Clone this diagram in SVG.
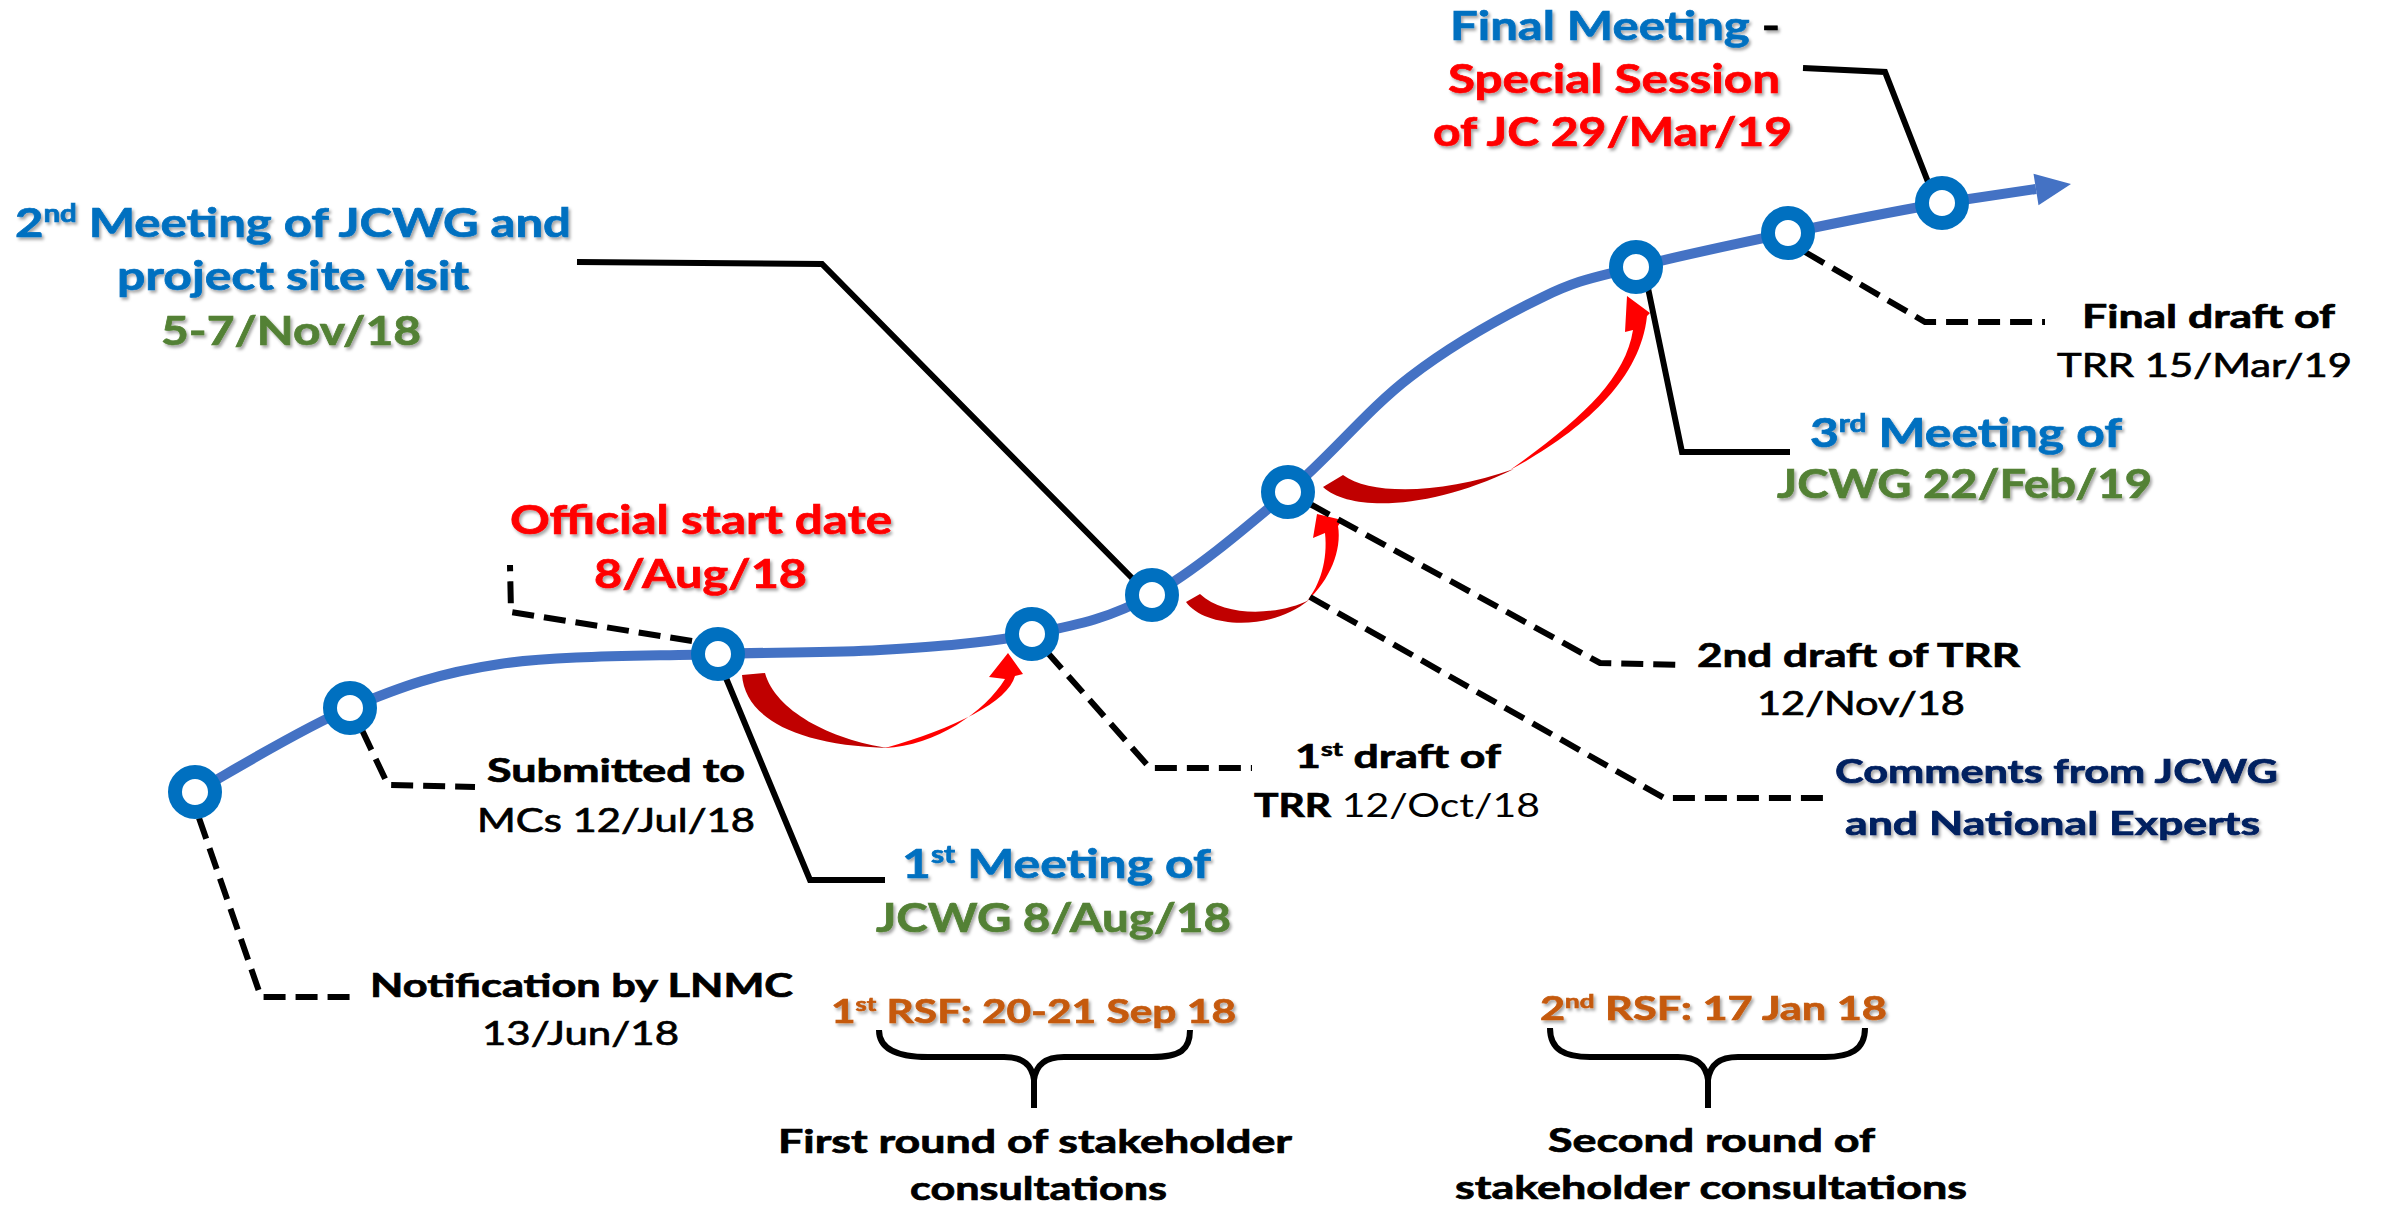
<svg xmlns="http://www.w3.org/2000/svg" width="2384" height="1205" viewBox="0 0 2384 1205">
<defs>
<filter id="sh" x="-5%" y="-20%" width="110%" height="140%">
<feDropShadow dx="2" dy="2.5" stdDeviation="1.5" flood-color="#000" flood-opacity="0.35"/>
</filter>
</defs>
<style>
.t{font-family:Lato,"Open Sans","Liberation Sans",sans-serif;font-weight:bold;stroke-width:0.7;}
.big{font-size:40px;filter:url(#sh);}
.mid{font-size:33px;}
.reg{font-weight:normal;stroke:none;}
.blue{fill:#0070C0;stroke:#0070C0;}
.green{fill:#538135;stroke:#538135;}
.red{fill:#FF0000;stroke:#FF0000;}
.orange{fill:#C55A11;stroke:#C55A11;filter:url(#sh);}
.navy{fill:#002060;stroke:#002060;filter:url(#sh);}
.blk{fill:#000;stroke:#000;}
.sup{font-size:60%;}
.solid{fill:none;stroke:#000;stroke-width:6;stroke-linejoin:miter;}
.dash{fill:none;stroke:#000;stroke-width:6;stroke-dasharray:22 10;}
.brace{fill:none;stroke:#000;stroke-width:6;stroke-linecap:butt;}
.ring{fill:#fff;stroke:#0070C0;stroke-width:14;}
.dark{fill:#C00000;}
.bright{fill:#FF0000;}
</style>

<g id="timeline">
<path d="M195,792 C220.8,778 299.2,729.3 350,708 C400.8,686.7 438.7,673 500,664 C561.3,655 654.7,656.3 718,654 C781.3,651.7 827.7,653.3 880,650 C932.3,646.7 986.7,643.2 1032,634 C1077.3,624.8 1109.3,618.7 1152,595 C1194.7,571.3 1245,528.3 1288,492 C1331,455.7 1367.5,409.5 1410,377 C1452.5,344.5 1505.3,315.3 1543,297 C1580.7,278.7 1595.2,277.7 1636,267 C1676.8,256.3 1737,243.7 1788,233 C1839,222.3 1900.7,210.3 1942,203 L2036,189" fill="none" stroke="#4472C4" stroke-width="10"/>
<polygon points="2071,184 2033.5,173.7 2038.5,205.3" fill="#4472C4"/>
</g>

<g id="red-arrows">
<g id="arrow1">
<path class="dark" d="M742,675 C745,715 790,745 889,748 C830,740 775,710 765,673 Z"/>
<path class="bright" d="M885,748 C935,746 985,712 1005,679 L989,677 L1008,653 L1023,674 L1015,676 C1008,702 955,728 885,748 Z"/>
</g>
<g id="arrow2">
<path class="dark" d="M1186,602 C1205,628 1270,632 1309,600 C1280,615 1225,618 1200,594 Z"/>
<path class="bright" d="M1307,601 C1330,580 1342,550 1338,526 L1342,520 L1317,514 L1313,538 L1325,533 C1328,560 1320,585 1307,601 Z"/>
</g>
<g id="arrow3">
<path class="dark" d="M1323,487 C1350,512 1430,510 1514,469 C1440,495 1370,495 1343,475 Z"/>
<path class="bright" d="M1510,470 C1580,432 1640,382 1647,316 L1650,313 L1627,296 L1625,332 L1633,330 C1625,380 1580,420 1510,470 Z"/>
</g>
</g>

<g id="connectors">
<path class="solid" d="M577,262 L822,264 L1134,580"/>
<path class="solid" d="M1803,68 L1885,72 L1928,182"/>
<path class="solid" d="M1648,288 L1682,452 L1790,452"/>
<path class="solid" d="M726,678 L810,880 L885,880"/>
<path class="dash" d="M692,641 L511,612 L510,565"/>
<path class="dash" d="M362,730 L388,785 L475,787"/>
<path class="dash" d="M199,818 L261,997 L350,997"/>
<path class="dash" d="M1047,652 L1150,768 L1252,768"/>
<path class="dash" d="M1310,504 L1600,663 L1682,665"/>
<path class="dash" d="M1310,597 L1664,798 L1825,798"/>
<path class="dash" d="M1805,252 L1925,322 L2045,322"/>
<path class="brace" d="M879,1030 C879,1050 900,1057 928,1057 L1004,1057 C1022,1057 1032,1064 1034,1080 C1036,1064 1046,1057 1064,1057 L1152,1057 C1180,1057 1190,1050 1190,1030 M1034,1078 L1034,1108"/>
<path class="brace" d="M1550,1028 C1550,1050 1565,1057 1590,1057 L1678,1057 C1696,1057 1706,1064 1708,1080 C1710,1064 1720,1057 1738,1057 L1825,1057 C1850,1057 1865,1050 1865,1028 M1708,1078 L1708,1108"/>
</g>

<g id="node-notification">
<circle class="ring" cx="195" cy="792" r="20"/>
<text class="t mid blk" x="370" y="997" textLength="423" lengthAdjust="spacingAndGlyphs">Notification by LNMC</text>
<text class="t mid blk reg" x="482" y="1045" textLength="197" lengthAdjust="spacingAndGlyphs">13/Jun/18</text>
</g>

<g id="node-submitted">
<circle class="ring" cx="350" cy="708" r="20"/>
<text class="t mid blk" x="487" y="782" textLength="258" lengthAdjust="spacingAndGlyphs">Submitted to</text>
<text class="t mid blk reg" x="477" y="832" textLength="278" lengthAdjust="spacingAndGlyphs">MCs 12/Jul/18</text>
</g>

<g id="node-start">
<circle class="ring" cx="718" cy="654" r="20"/>
<text class="t big red" x="510" y="534" textLength="382" lengthAdjust="spacingAndGlyphs">Official start date</text>
<text class="t big red" x="594" y="588" textLength="213" lengthAdjust="spacingAndGlyphs">8/Aug/18</text>
<text class="t big blue" x="902" y="878" textLength="309" lengthAdjust="spacingAndGlyphs">1<tspan class="sup" dy="-15">st</tspan><tspan dy="15"> Meeting of</tspan></text>
<text class="t big green" x="876" y="932" textLength="355" lengthAdjust="spacingAndGlyphs">JCWG 8/Aug/18</text>
</g>

<g id="node-draft1">
<circle class="ring" cx="1032" cy="634" r="20"/>
<text class="t mid blk" x="1295" y="768" textLength="206" lengthAdjust="spacingAndGlyphs">1<tspan class="sup" dy="-12">st</tspan><tspan dy="12"> draft of</tspan></text>
<text class="t mid blk" x="1254" y="817" textLength="286" lengthAdjust="spacingAndGlyphs">TRR<tspan class="reg"> 12/Oct/18</tspan></text>
</g>

<g id="node-meeting2">
<circle class="ring" cx="1152" cy="595" r="20"/>
<text class="t big blue" x="15" y="237" textLength="556" lengthAdjust="spacingAndGlyphs">2<tspan class="sup" dy="-15">nd</tspan><tspan dy="15"> Meeting of JCWG and</tspan></text>
<text class="t big blue" x="117" y="290" textLength="352" lengthAdjust="spacingAndGlyphs">project site visit</text>
<text class="t big green" x="161" y="345" textLength="260" lengthAdjust="spacingAndGlyphs">5-7/Nov/18</text>
</g>

<g id="node-draft2">
<circle class="ring" cx="1288" cy="492" r="20"/>
<text class="t mid blk" x="1697" y="667" textLength="323" lengthAdjust="spacingAndGlyphs">2nd draft of TRR</text>
<text class="t mid blk reg" x="1757" y="715" textLength="208" lengthAdjust="spacingAndGlyphs">12/Nov/18</text>
<text class="t mid navy" x="1835" y="783" textLength="443" lengthAdjust="spacingAndGlyphs">Comments from JCWG</text>
<text class="t mid navy" x="1845" y="835" textLength="415" lengthAdjust="spacingAndGlyphs">and National Experts</text>
</g>

<g id="node-meeting3">
<circle class="ring" cx="1636" cy="267" r="20"/>
<text class="t big blue" x="1810" y="447" textLength="312" lengthAdjust="spacingAndGlyphs">3<tspan class="sup" dy="-15">rd</tspan><tspan dy="15"> Meeting of</tspan></text>
<text class="t big green" x="1777" y="498" textLength="375" lengthAdjust="spacingAndGlyphs">JCWG 22/Feb/19</text>
</g>

<g id="node-finaldraft">
<circle class="ring" cx="1788" cy="233" r="20"/>
<text class="t mid blk" x="2082" y="328" textLength="253" lengthAdjust="spacingAndGlyphs">Final draft of</text>
<text class="t mid blk reg" x="2057" y="377" textLength="295" lengthAdjust="spacingAndGlyphs">TRR 15/Mar/19</text>
</g>

<g id="node-final">
<circle class="ring" cx="1942" cy="203" r="20"/>
<text class="t big blue" x="1450" y="40" textLength="330" lengthAdjust="spacingAndGlyphs">Final Meeting<tspan class="blk"> -</tspan></text>
<text class="t big red" x="1448" y="93" textLength="332" lengthAdjust="spacingAndGlyphs">Special Session</text>
<text class="t big red" x="1433" y="146" textLength="359" lengthAdjust="spacingAndGlyphs">of JC 29/Mar/19</text>
</g>

<g id="rsf1">
<text class="t mid orange" x="831" y="1023" textLength="405" lengthAdjust="spacingAndGlyphs">1<tspan class="sup" dy="-12">st</tspan><tspan dy="12"> RSF: 20-21 Sep 18</tspan></text>
<text class="t mid blk" x="778" y="1153" textLength="514" lengthAdjust="spacingAndGlyphs">First round of stakeholder</text>
<text class="t mid blk" x="910" y="1200" textLength="257" lengthAdjust="spacingAndGlyphs">consultations</text>
</g>

<g id="rsf2">
<text class="t mid orange" x="1540" y="1020" textLength="347" lengthAdjust="spacingAndGlyphs">2<tspan class="sup" dy="-12">nd</tspan><tspan dy="12"> RSF: 17 Jan 18</tspan></text>
<text class="t mid blk" x="1548" y="1152" textLength="327" lengthAdjust="spacingAndGlyphs">Second round of</text>
<text class="t mid blk" x="1455" y="1199" textLength="512" lengthAdjust="spacingAndGlyphs">stakeholder consultations</text>
</g>
</svg>
